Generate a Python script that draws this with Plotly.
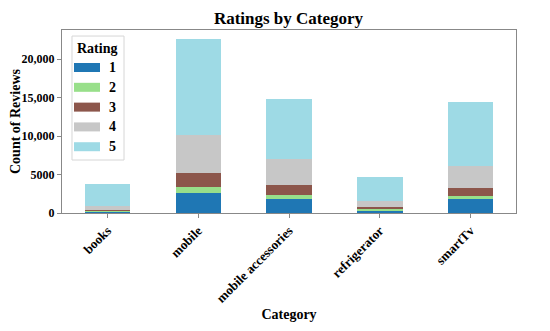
import plotly.graph_objects as go

categories = ["books", "mobile", "mobile accessories", "refrigerator", "smartTv"]
ratings = ["1", "2", "3", "4", "5"]
r1 = [200, 2600, 1820, 300, 1820]
r2 = [80, 725, 520, 300, 430]
r3 = [110, 1870, 1300, 200, 1000]
r4 = [560, 4885, 3410, 800, 2890]
r5 = [2840, 12600, 7750, 3100, 8350]
series = [r1, r2, r3, r4, r5]
colors = ["#1f77b4", "#98df8a", "#8c564b", "#c7c7c7", "#9edae5"]
ytickvals = [0, 5000, 10000, 15000, 20000]
yticktext = ["0", "5000", "10,000", "15,000", "20,000"]

font_family = "Liberation Serif, Times New Roman, serif"

fig = go.Figure()
for name, vals, col in zip(ratings, series, colors):
    fig.add_trace(go.Bar(x=categories, y=vals, name=name, marker_color=col,
                         marker_line_width=0, width=0.5, showlegend=False))

# Legend drawn matplotlib-style (wide swatches) in axis-domain coordinates
shapes = [dict(type="rect", xref="x domain", yref="y domain",
               x0=0.022, x1=0.1366, y0=0.2896, y1=0.967,
               line=dict(color="#d6d6d6", width=1), fillcolor="white", layer="above")]
annotations = [dict(text="<b>Rating</b>", xref="x domain", yref="y domain",
                    x=0.0765, y=0.9016, showarrow=False, xanchor="center", yanchor="middle",
                    font=dict(size=14, family=font_family, color="black"))]
row_top = 0.795
row_step = 0.1082
for i, (name, col) in enumerate(zip(ratings, colors)):
    yc = row_top - i * row_step
    shapes.append(dict(type="rect", xref="x domain", yref="y domain",
                       x0=0.0264, x1=0.0837, y0=yc - 0.0246, y1=yc + 0.0246,
                       line=dict(width=0), fillcolor=col, layer="above"))
    annotations.append(dict(text=f"<b>{name}</b>", xref="x domain", yref="y domain",
                            x=0.1123, y=yc, showarrow=False, xanchor="center",
                            yanchor="middle",
                            font=dict(size=14, family=font_family, color="black")))

# page body has an 8px margin, so the figure is shrunk by 8px and margins shifted
fig.update_layout(
    barmode="stack",
    width=542, height=323,
    margin=dict(l=54, r=34, t=22, b=118, autoexpand=False),
    paper_bgcolor="white", plot_bgcolor="white",
    font=dict(family=font_family, color="black", size=13),
    title=dict(text="<b>Ratings by Category</b>", x=0.5175, xanchor="center",
               y=0.969, yanchor="middle", font=dict(size=17)),
    showlegend=False,
    shapes=shapes,
    annotations=annotations,
)
fig.update_xaxes(
    range=[-0.5, 4.5], tickangle=-45, showline=True, linecolor="#888888",
    mirror=True, ticks="outside", ticklen=4, tickcolor="#888888",
    tickfont=dict(size=13, family=font_family), automargin=False,
    tickvals=categories, ticktext=[f"<b>{c}</b>" for c in categories],
    title=dict(text="<b>Category</b>", font=dict(size=14), standoff=4),
    showgrid=False,
)
fig.update_yaxes(
    range=[0, 23800], tickvals=ytickvals, ticktext=[f"<b>{t}</b>" for t in yticktext],
    showline=True, linecolor="#888888", mirror=True, ticks="outside",
    ticklen=4, tickcolor="#888888", tickfont=dict(size=12, family=font_family),
    automargin=False,
    title=dict(text="<b>Count of Reviews</b>", font=dict(size=14), standoff=2),
    showgrid=False, zeroline=False,
)

fig.write_html("out.html")
